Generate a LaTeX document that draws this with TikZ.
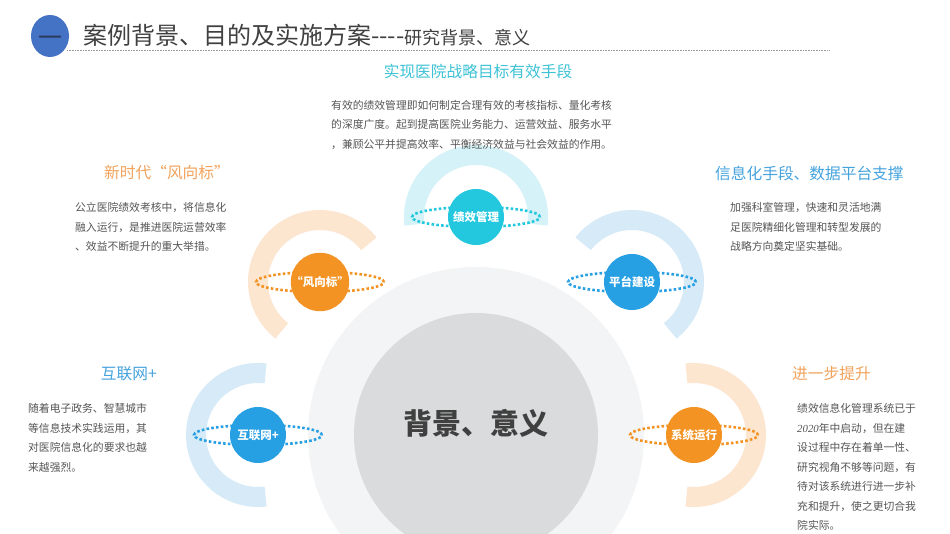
\documentclass[tikz,border=0pt]{standalone}
\usepackage{fontspec}
\setmainfont{Noto Sans CJK SC}
\newfontfamily\numfont{Liberation Serif}
\usepackage{tikz}
\usetikzlibrary{positioning}

\definecolor{badgeblue}{HTML}{4472C4}
\definecolor{badgedash}{HTML}{2B3A5C}
\definecolor{titlegray}{HTML}{404040}
\definecolor{rulegray}{HTML}{9A9A9A}
\definecolor{bodygray}{HTML}{555555}
\definecolor{ringgray}{HTML}{F3F4F5}
\definecolor{coregray}{HTML}{D9DBDC}
\definecolor{hubcyan}{HTML}{23C8DE}
\definecolor{hubblue}{HTML}{279FE3}
\definecolor{huborange}{HTML}{F39323}
\definecolor{lightcyan}{HTML}{D4F2F7}
\definecolor{lightblue}{HTML}{D6EAF7}
\definecolor{lightorange}{HTML}{FCE6D0}
\definecolor{headcyan}{HTML}{3EC3D6}
\definecolor{headblue}{HTML}{45A3DD}
\definecolor{headorange}{HTML}{F2A35C}

\tikzstyle{badge} = [ellipse, fill=badgeblue, minimum width=38bp, minimum height=42bp, inner sep=0pt]
\tikzstyle{hub} = [circle, minimum size=56bp, inner sep=0pt, text=white, font=\bfseries\fontsize{11.5bp}{12bp}\selectfont]
\tikzstyle{ring} = [line width=20bp]
\tikzstyle{orbit} = [line width=2.6bp, dash pattern=on 2.6bp off 2.2bp]
\tikzstyle{heading} = [inner sep=0pt, font=\fontsize{15.7bp}{16bp}\selectfont]
\tikzstyle{body} = [align=left, anchor=north west, inner sep=0pt, text=bodygray, font=\fontsize{10.8bp}{19.5bp}\selectfont]
\usetikzlibrary{shapes.geometric}

\begin{document}
\begin{tikzpicture}[x=1bp, y=1bp]
\useasboundingbox (0,0) rectangle (950,534);
\clip (0,0) rectangle (950,534);
\fill[white] (0,0) rectangle (950,534);

% title bar
\node (badge) [badge] at (50,498) {};
\node (badgetext) [inner sep=0pt, text=badgedash, font=\fontsize{24bp}{24bp}\selectfont] at ([yshift=-5bp]badge.center) {一};
\node (title) [anchor=base west, inner sep=0pt, text=titlegray, font=\fontsize{24bp}{24bp}\selectfont] at (83,489) {案例背景、目的及实施方案{-}{-}{-}{-}};
\node (subtitle) [base right=0bp of title, inner sep=0pt, text=titlegray, font=\fontsize{18bp}{18bp}\selectfont] {研究背景、意义};
\coordinate (ruleL) at (67,483);
\coordinate (ruleR) at (830,483);
\draw [rulegray, line width=1bp, dash pattern=on 1bp off 0.6bp] (ruleL) -- (ruleR);

% core circles
\coordinate (pcore) at (476,99);
\fill [ringgray] (pcore) circle (168);
\node (core) [circle, fill=coregray, minimum size=244bp, inner sep=0pt] at (pcore) {};
\node (coretext) [text=titlegray, font=\bfseries\fontsize{29bp}{29bp}\selectfont] at ([yshift=12bp]core.center) {背景、意义};

% hub centres
\coordinate (pjx) at (476,317);
\coordinate (pfx) at (320,252);
\coordinate (ppt) at (632,252);
\coordinate (phl) at (258,99);
\coordinate (pxt) at (694,99);

% rings
\draw [ring, lightcyan] (pjx) ++(-7:62) arc [start angle=-7, end angle=187, radius=62];
\draw [ring, lightorange] (pfx) ++(38:62) arc [start angle=38, end angle=232, radius=62];
\draw [ring, lightblue] (ppt) ++(-52:62) arc [start angle=-52, end angle=142, radius=62];
\draw [ring, lightblue] (phl) ++(83:62) arc [start angle=83, end angle=277, radius=62];
\draw [ring, lightorange] (pxt) ++(-97:62) arc [start angle=-97, end angle=97, radius=62];

% dotted orbits
\draw [orbit, hubcyan] (pjx) ellipse [x radius=64, y radius=10];
\draw [orbit, huborange] (pfx) ellipse [x radius=64, y radius=10];
\draw [orbit, hubblue] (ppt) ellipse [x radius=64, y radius=10];
\draw [orbit, hubblue] (phl) ellipse [x radius=64, y radius=10];
\draw [orbit, huborange] (pxt) ellipse [x radius=64, y radius=10];

% hubs
\node (jx) [hub, fill=hubcyan] at (pjx) {绩效管理};
\node (fx) [hub, fill=huborange] at (pfx) {“风向标”};
\node (pt) [hub, fill=hubblue] at (ppt) {平台建设};
\node (hl) [hub, fill=hubblue] at (phl) {互联网+};
\node (xt) [hub, fill=huborange] at (pxt) {系统运行};

% headings
\node (hjx) [heading, text=headcyan] at (478,462) {实现医院战略目标有效手段};
\node (hfx) [heading, text=headorange, anchor=east] at (230,361) {新时代“风向标”};
\node (hpt) [heading, text=headblue, anchor=west] at (715,361) {信息化手段、数据平台支撑};
\node (hhl) [heading, text=headblue, anchor=east] at (157,160) {互联网+};
\node (hxt) [heading, text=headorange, anchor=west] at (792,160) {进一步提升};

% body texts
\node (tjx) [body] at (331,434) {有效的绩效管理即如何制定合理有效的考核指标、量化考核\\的深度广度。起到提高医院业务能力、运营效益、服务水平\\，兼顾公平并提高效率、平衡经济效益与社会效益的作用。};
\node (tfx) [body] at (75,331.5) {公立医院绩效考核中，将信息化\\融入运行，是推进医院运营效率\\、效益不断提升的重大举措。};
\node (tpt) [body] at (730,331.5) {加强科室管理，快速和灵活地满\\足医院精细化管理和转型发展的\\战略方向奠定坚实基础。};
\node (thl) [body] at (28,130.5) {随着电子政务、智慧城市\\等信息技术实践运用，其\\对医院信息化的要求也越\\来越强烈。};
\node (txt) [body] at (797,130.5) {绩效信息化管理系统已于\\{\numfont\itshape 2020}年中启动，但在建\\设过程中存在着单一性、\\研究视角不够等问题，有\\待对该系统进行进一步补\\充和提升，使之更切合我\\院实际。};
\end{tikzpicture}
\end{document}
